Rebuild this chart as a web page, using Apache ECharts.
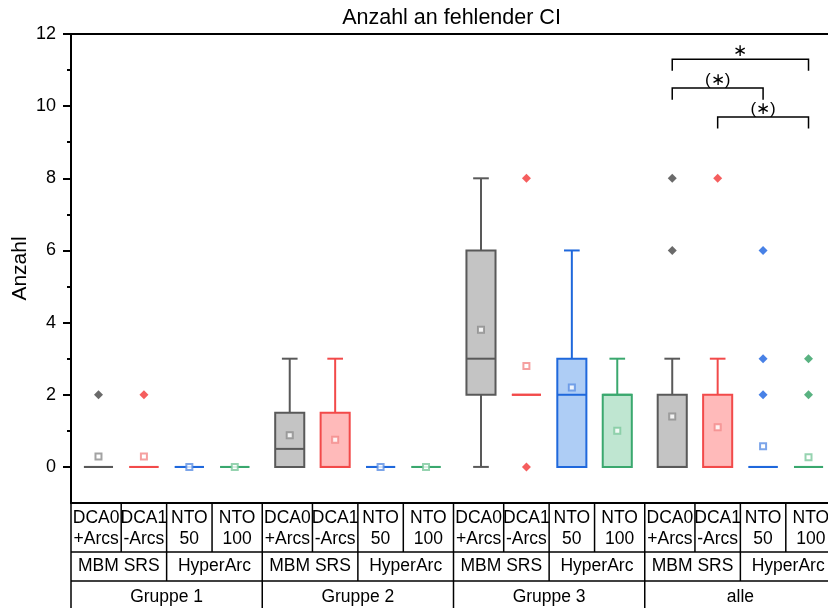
<!DOCTYPE html>
<html>
<head>
<meta charset="utf-8">
<script src="https://cdn.jsdelivr.net/npm/echarts@6/dist/echarts.min.js"></script>
<style>
  html, body { margin: 0; padding: 0; background: #fff; }
  #chart { width: 828px; height: 608px; }
</style>
</head>
<body>
<div id="chart"></div>
<script>
// ---- data -------------------------------------------------------------
const titleText = 'Anzahl an fehlender CI';
const yName = 'Anzahl';
const groupNames = ['Gruppe 1', 'Gruppe 2', 'Gruppe 3', 'alle'];
const systemNames = ['MBM SRS', 'HyperArc'];
const methodLabels = [['DCA0', '+Arcs'], ['DCA1', '-Arcs'], ['NTO', '50'], ['NTO', '100']];
const yTickValues = [0, 2, 4, 6, 8, 10, 12];
const yMinorValues = [1, 3, 5, 7, 9, 11];

// box statistics per group: [lower whisker, Q1, median, Q3, upper whisker]
const dca0Box  = [[0, 0, 0, 0, 0], [0, 0, 0.5, 1.5, 3], [0, 2, 3, 6, 8], [0, 0, 0, 2, 3]];
const dca1Box  = [[0, 0, 0, 0, 0], [0, 0, 0, 1.5, 3], [2, 2, 2, 2, 2], [0, 0, 0, 2, 3]];
const nto50Box = [[0, 0, 0, 0, 0], [0, 0, 0, 0, 0], [0, 0, 2, 3, 6], [0, 0, 0, 0, 0]];
const nto100Box = [[0, 0, 0, 0, 0], [0, 0, 0, 0, 0], [0, 0, 2, 2, 3], [0, 0, 0, 0, 0]];

// mean per group
const dca0Mean  = [0.29, 0.875, 3.8, 1.4];
const dca1Mean  = [0.29, 0.75, 2.8, 1.1];
const nto50Mean = [0, 0, 2.2, 0.57];
const nto100Mean = [0, 0, 1.0, 0.27];

// outliers per group
const dca0Out  = [[2], [], [], [6, 8]];
const dca1Out  = [[2], [], [0, 8], [8]];
const nto50Out = [[], [], [], [2, 3, 6]];
const nto100Out = [[], [], [], [2, 3]];

// significance brackets within "alle" (method indices)
const bracketFrom = [0, 0, 1];
const bracketTo = [3, 2, 3];
const bracketLevel = [11.3, 10.5, 9.7];
const bracketLabel = ['\u2217', '(\u2217)', '(\u2217)'];

// ---- layout / style ---------------------------------------------------
const FONT = '"Liberation Sans", Arial, sans-serif';
const GROUP_STEP = 4.21;
const X_MIN = 0.5 - (GROUP_STEP - 4) / 2;
const X_MAX = X_MIN + 4 * GROUP_STEP;
const BOX_W = 0.64;
const CAP_W = 0.345;
function xPos(g, i) { return 1 + g * GROUP_STEP + i; }

const styles = [
  { stroke: '#595959', fill: '#c4c4c4', mean: '#8c8c8c', out: '#454545' },
  { stroke: '#f24a4a', fill: '#ffbaba', mean: '#f28888', out: '#f23636' },
  { stroke: '#1f68dc', fill: '#aecdf5', mean: '#5b8fe4', out: '#1a62e0' },
  { stroke: '#3aa86e', fill: '#bfe6d1', mean: '#7cc89c', out: '#2f9f62' }
];
const boxes = [dca0Box, dca1Box, nto50Box, nto100Box];
const means = [dca0Mean, dca1Mean, nto50Mean, nto100Mean];
const outs = [dca0Out, dca1Out, nto50Out, nto100Out];

function renderBox(params, api) {
  const x = api.value(0);
  const lo = api.coord([x, api.value(1)]);
  const q1 = api.coord([x, api.value(2)]);
  const md = api.coord([x, api.value(3)]);
  const q3 = api.coord([x, api.value(4)]);
  const hi = api.coord([x, api.value(5)]);
  const bw = api.size([BOX_W, 0])[0];
  const cw = api.size([CAP_W, 0])[0];
  const st = styles[params.seriesIndex];
  const line = { stroke: st.stroke, lineWidth: 2 };
  const kids = [];
  if (hi[1] < q3[1] - 0.5) {
    kids.push({ type: 'line', shape: { x1: hi[0], y1: hi[1], x2: hi[0], y2: q3[1] }, style: line });
    kids.push({ type: 'line', shape: { x1: hi[0] - cw / 2, y1: hi[1], x2: hi[0] + cw / 2, y2: hi[1] }, style: line });
  }
  if (lo[1] > q1[1] + 0.5) {
    kids.push({ type: 'line', shape: { x1: lo[0], y1: q1[1], x2: lo[0], y2: lo[1] }, style: line });
    kids.push({ type: 'line', shape: { x1: lo[0] - cw / 2, y1: lo[1], x2: lo[0] + cw / 2, y2: lo[1] }, style: line });
  }
  kids.push({ type: 'rect', shape: { x: q3[0] - bw / 2, y: q3[1], width: bw, height: q1[1] - q3[1] },
    style: { fill: st.fill, stroke: st.stroke, lineWidth: 2 } });
  kids.push({ type: 'line', shape: { x1: md[0] - bw / 2, y1: md[1], x2: md[0] + bw / 2, y2: md[1] }, style: line });
  return { type: 'group', children: kids };
}

function renderBracket(params, api) {
  const a = api.coord([api.value(0), api.value(2)]);
  const b = api.coord([api.value(1), api.value(2)]);
  const drop = api.size([0, 0.32])[1];
  const label = bracketLabel[params.dataIndex];
  return {
    type: 'group',
    children: [
      { type: 'polyline', shape: { points: [[a[0], a[1] + drop], [a[0], a[1]], [b[0], b[1]], [b[0], b[1] + drop]] },
        style: { stroke: '#000', lineWidth: 1.5, fill: null } },
      { type: 'text', x: (a[0] + b[0]) / 2, y: a[1] - 8,
        style: { text: label, font: '17px ' + FONT, fill: '#000', align: 'center', verticalAlign: 'middle' } }
    ]
  };
}

const series = [];
for (let m = 0; m < 4; m++) {
  series.push({
    type: 'custom', xAxisIndex: 0, yAxisIndex: 0, clip: false,
    renderItem: renderBox,
    encode: { x: 0, y: [1, 2, 3, 4, 5] },
    data: boxes[m].map((b, g) => [xPos(g, m)].concat(b)),
    z: 2
  });
}
for (let m = 0; m < 4; m++) {
  series.push({
    type: 'scatter', symbol: 'emptyRect', symbolSize: 6,
    itemStyle: { color: styles[m].mean, borderWidth: 1 },
    data: means[m].map((v, g) => [xPos(g, m), v]), z: 4
  });
  const pts = [];
  outs[m].forEach((list, g) => list.forEach(v => pts.push([xPos(g, m), v])));
  series.push({
    type: 'scatter', symbol: 'diamond', symbolSize: 9,
    itemStyle: { color: styles[m].out },
    data: pts, z: 4
  });
}
series.push({
  type: 'custom', clip: false, renderItem: renderBracket,
  encode: { x: [0, 1], y: 2 },
  data: bracketFrom.map((f, k) => [xPos(3, f), xPos(3, bracketTo[k]), bracketLevel[k]]),
  z: 5
});

const chart = echarts.init(document.getElementById('chart'), null, { renderer: 'canvas' });
const GRID = { left: 71, top: 34, width: 765, height: 469 };
chart.setOption({
  animation: false,
  backgroundColor: '#fff',
  textStyle: { fontFamily: FONT },
  grid: Object.assign({ outerBoundsMode: 'none', containLabel: false }, GRID),
  xAxis: [
    { type: 'value', min: X_MIN, max: X_MAX, position: 'bottom',
      axisLine: { show: true, onZero: false, lineStyle: { color: '#000', width: 2 } },
      axisTick: { show: false }, axisLabel: { show: false }, splitLine: { show: false } },
    { type: 'value', min: X_MIN, max: X_MAX, position: 'top',
      axisLine: { show: true, onZero: false, lineStyle: { color: '#000', width: 2 } },
      axisTick: { show: false }, axisLabel: { show: false }, splitLine: { show: false } }
  ],
  yAxis: [
    { type: 'value', min: -1, max: 12, position: 'left',
      name: yName, nameLocation: 'middle', nameGap: 40, nameRotate: 90, nameMoveOverlap: false,
      nameTextStyle: { fontSize: 21, color: '#000', fontFamily: FONT },
      axisLine: { show: true, onZero: false, lineStyle: { color: '#000', width: 2 } },
      axisTick: { show: true, customValues: yTickValues, length: 8, lineStyle: { color: '#000', width: 2 } },
      axisLabel: { customValues: yTickValues, fontSize: 18, color: '#000', margin: 15, fontFamily: FONT },
      splitLine: { show: false } },
    { type: 'value', min: -1, max: 12, position: 'left',
      axisLine: { show: false },
      axisTick: { show: true, customValues: yMinorValues, length: 4, lineStyle: { color: '#000', width: 2 } },
      axisLabel: { show: false }, splitLine: { show: false } }
  ],
  series: series
});

// ---- title and category table below the x axis -----------------------
const px = v => chart.convertToPixel({ xAxisIndex: 0 }, v);
const yBase = chart.convertToPixel({ yAxisIndex: 0 }, -1);
const row1 = yBase + 49, row2 = row1 + 29, rowEnd = 640;
const gfx = [];
const lineStyle = { stroke: '#000', lineWidth: 1.5 };
function vline(x, y1, y2) { gfx.push({ type: 'line', shape: { x1: x, y1: y1, x2: x, y2: y2 }, style: lineStyle, silent: true }); }
function label(text, x, y) {
  gfx.push({ type: 'text', x: x, y: y, silent: true,
    style: { text: text, font: '17.5px ' + FONT, fill: '#000', align: 'center', verticalAlign: 'middle', lineHeight: 21 } });
}
const left = px(X_MIN), right = px(X_MAX);
gfx.push({ type: 'line', shape: { x1: left, y1: row1, x2: right, y2: row1 }, style: lineStyle, silent: true });
gfx.push({ type: 'line', shape: { x1: left, y1: row2, x2: right, y2: row2 }, style: lineStyle, silent: true });
for (let g = 0; g < 4; g++) {
  const gs = X_MIN + g * GROUP_STEP, ge = gs + GROUP_STEP;
  const b = [gs, xPos(g, 0) + 0.5, xPos(g, 1) + 0.5, xPos(g, 2) + 0.5, ge];
  vline(px(gs), yBase, rowEnd);
  for (let i = 1; i < 4; i++) vline(px(b[i]), yBase, row1);
  vline(px(b[2]), row1, row2);
  for (let i = 0; i < 4; i++) label(methodLabels[i][0] + '\n' + methodLabels[i][1], (px(b[i]) + px(b[i + 1])) / 2, (yBase + row1) / 2 + 1);
  label(systemNames[0], (px(b[0]) + px(b[2])) / 2, (row1 + row2) / 2);
  label(systemNames[1], (px(b[2]) + px(b[4])) / 2, (row1 + row2) / 2);
  label(groupNames[g], (px(gs) + px(ge)) / 2, row2 + 16);
}
vline(right, yBase, rowEnd);
gfx.push({ type: 'text', x: GRID.left + GRID.width / 2 - 2, y: 18, silent: true,
  style: { text: titleText, font: '21.5px ' + FONT, fill: '#000', align: 'center', verticalAlign: 'middle' } });
chart.setOption({ graphic: gfx });
</script>
</body>
</html>
